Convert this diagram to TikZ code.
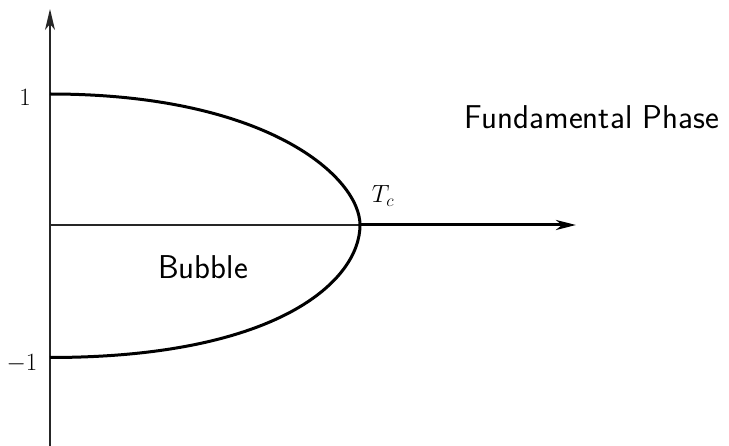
\documentclass[tikz,border=0pt]{standalone}
\usetikzlibrary{arrows.meta}
\begin{document}
\begin{tikzpicture}[x=1pt,y=-1pt,
  axis/.style={line width=1.3pt,black!85},
  thickline/.style={line width=3pt,black},
  lbl/.style={inner sep=0pt,font=\fontsize{33}{40}\selectfont\sffamily},
  num/.style={inner sep=0pt,font=\fontsize{24}{28}\selectfont}]
\useasboundingbox (0,0) rectangle (729,446);
\coordinate (O) at (50,225);
\coordinate (ybot) at (50,446);
\coordinate (ytop) at (50,9);
\coordinate (Tc) at (360,225);
\coordinate (xend) at (576,225);
\coordinate (top) at (50,94);
\coordinate (bot) at (50,357.5);
\draw[axis,-{Stealth[length=21pt,width=10pt,inset=6pt]}] (ybot) -- (ytop);
\draw[axis] (O) -- (Tc);
\draw[thickline,-{Stealth[length=20pt,width=10pt,inset=6pt]}] (Tc) -- (xend);
\draw[thickline,line join=round] (top) .. controls (269,94) and (360,178) .. (Tc)
  .. controls (360,280) and (279,357.5) .. (bot);
\node[num] (one) at (25,97) {$1$};
\node[num] (mone) at (22,364) {$-1$};
\node[num] (tc) at (383,196) {$T_c$};
\node[lbl] (fp) at (592,117) {Fundamental Phase};
\node[lbl] (bb) at (203,267) {Bubble};
\end{tikzpicture}
\end{document}
